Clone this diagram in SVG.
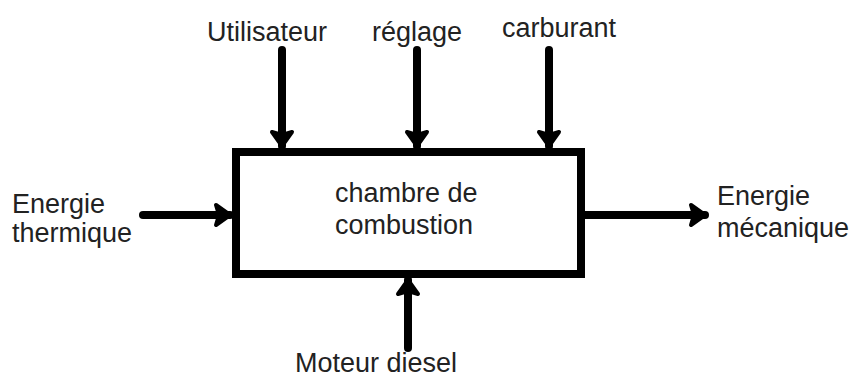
<svg xmlns="http://www.w3.org/2000/svg" width="859" height="381" viewBox="0 0 859 381">
  <style>
    .lbl { font-family: "Liberation Sans", Arial, sans-serif; font-size: 27px; fill: #222; }
    .box { fill: #fff; stroke: #000; stroke-width: 8; }
    .conn { stroke: #000; stroke-width: 8; stroke-linecap: round; fill: none; marker-end: url(#head); }
  </style>
  <defs>
    <marker id="head" markerUnits="userSpaceOnUse" viewBox="-20 -15 24 30" refX="0" refY="0" markerWidth="24" markerHeight="30" orient="auto" overflow="visible">
      <path d="M0,0 L-14,-10 L-11,0 L-14,10 Z" fill="#000" stroke="#000" stroke-width="4" stroke-linejoin="round"/>
    </marker>
  </defs>
  <rect width="859" height="381" fill="#fff"/>

  <g id="connectors">
    <line class="conn" x1="282" y1="50" x2="282" y2="146"/>
    <line class="conn" x1="417" y1="50" x2="417" y2="146"/>
    <line class="conn" x1="549" y1="50" x2="549" y2="146"/>
    <line class="conn" x1="143" y1="215" x2="230" y2="215"/>
    <line class="conn" x1="585" y1="215" x2="705" y2="215"/>
    <line class="conn" x1="408" y1="348" x2="408" y2="280"/>
  </g>

  <g id="chambre">
    <rect class="box" x="236" y="152" width="345" height="122"/>
    <text class="lbl" x="335" y="202">chambre de</text>
    <text class="lbl" x="335" y="234">combustion</text>
  </g>
  <g id="utilisateur">
    <text class="lbl" x="207" y="41">Utilisateur</text>
  </g>
  <g id="reglage">
    <text class="lbl" x="372" y="41">réglage</text>
  </g>
  <g id="carburant">
    <text class="lbl" x="502" y="37">carburant</text>
  </g>
  <g id="energie-thermique">
    <text class="lbl" x="12" y="213">Energie</text>
    <text class="lbl" x="12" y="242">thermique</text>
  </g>
  <g id="energie-mecanique">
    <text class="lbl" x="717" y="205">Energie</text>
    <text class="lbl" x="717" y="237">mécanique</text>
  </g>
  <g id="moteur-diesel">
    <text class="lbl" x="295" y="372">Moteur diesel</text>
  </g>
</svg>
